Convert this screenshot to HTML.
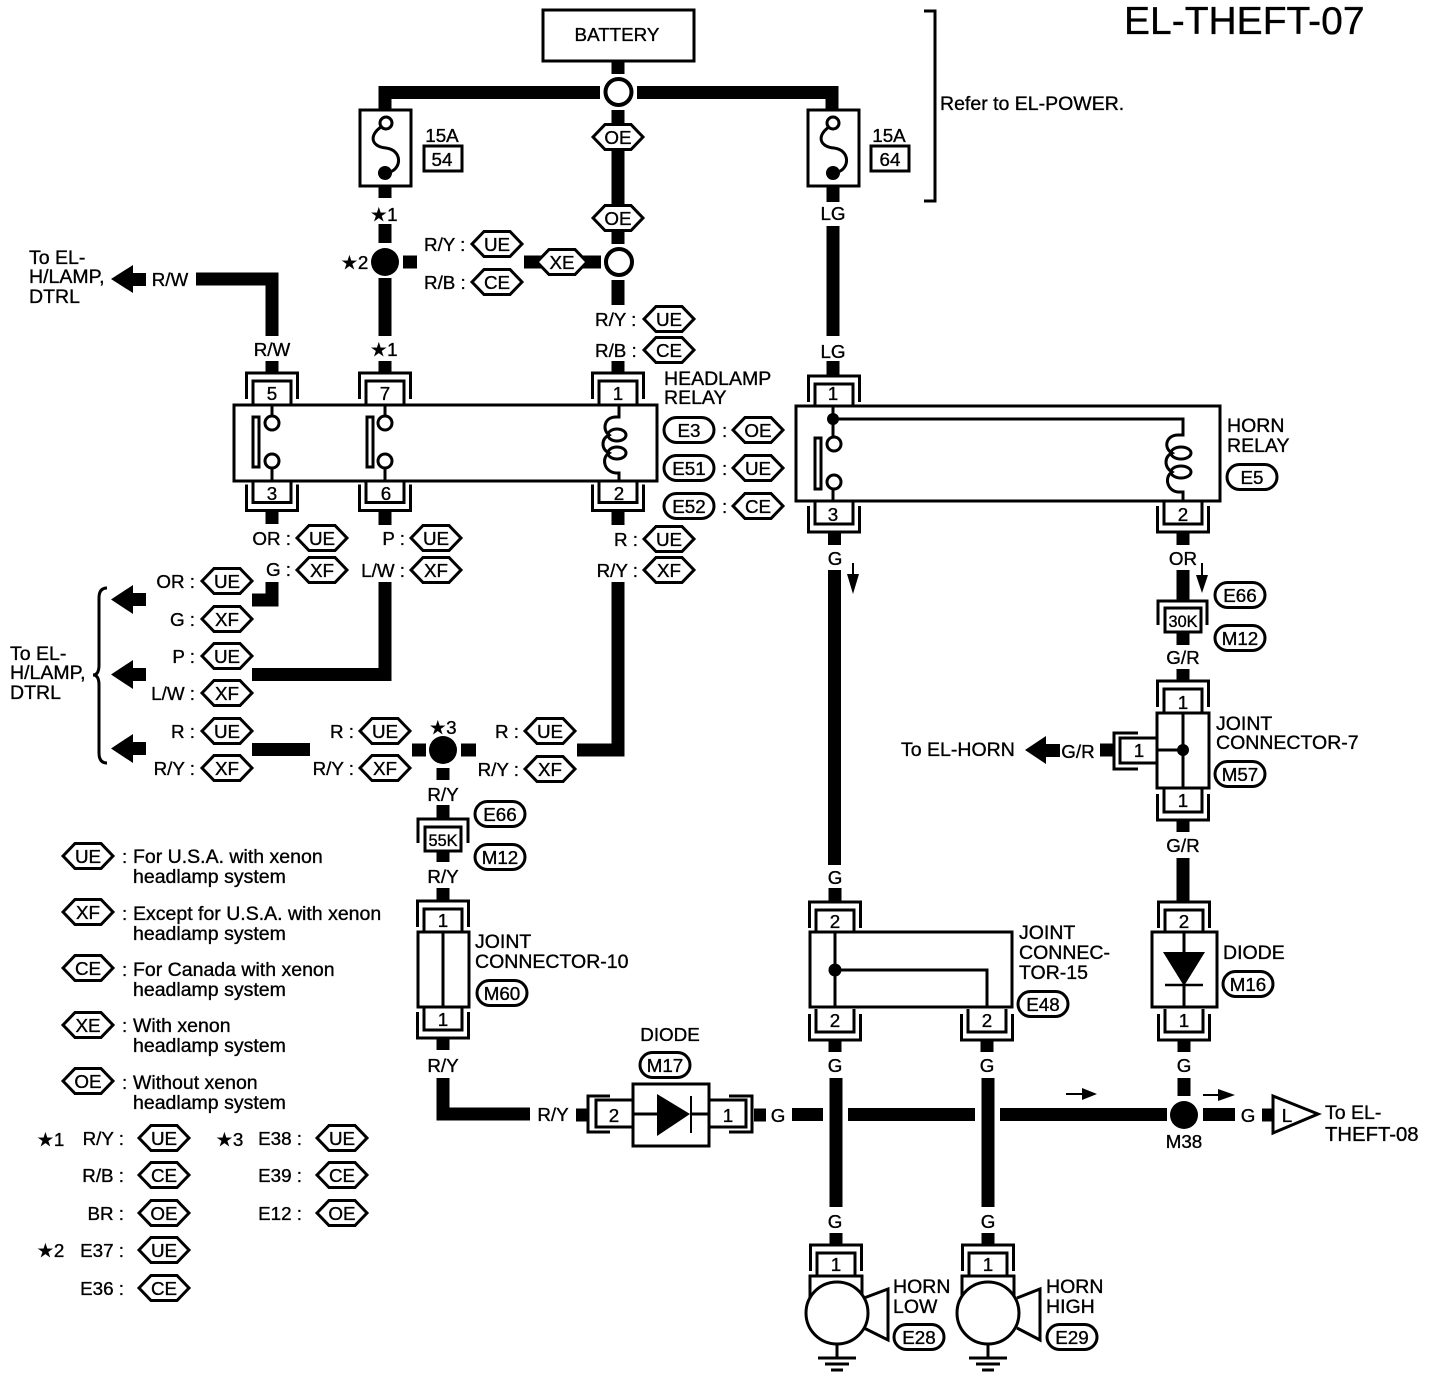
<!DOCTYPE html>
<html><head><meta charset="utf-8"><title>EL-THEFT-07</title>
<style>
html,body{margin:0;padding:0;background:#fff}
svg{display:block}
text{font-family:"Liberation Sans","DejaVu Sans",sans-serif;font-size:18.8px;fill:#000;stroke:#000;stroke-width:.35}
.d{font-size:19.5px}
.m{text-anchor:middle}.e{text-anchor:end}
.w{stroke:#000;stroke-width:13;fill:none}
.l{stroke:#000;stroke-width:3;fill:none}
.b{stroke:#000;stroke-width:3;fill:#fff}
</style></head><body>
<svg width="1440" height="1378" viewBox="0 0 1440 1378" xmlns="http://www.w3.org/2000/svg">
<defs>
<polygon id="h" class="b" points="-25,0 -13,-12.500 13,-12.500 25,0 13,12.500 -13,12.500"/>
<rect id="p" class="b" x="-25" y="-12.500" width="50" height="25" rx="12.500"/>
<g id="ct"><path class="l" d="M-25.500,26V0H25.500V26M-19,31V8H19V31"/></g>
<g id="cb"><path class="l" d="M-25.500,-26V0H25.500V-26M-19,-31V-8H19V-31"/></g>
<g id="gnd"><path class="l" d="M0,31V45M-19,45H19"/><path class="l" d="M-12,51H12M-6,57H6"/></g>
</defs>
<rect width="1440" height="1378" fill="#fff"/>

<!-- title / battery -->
<text x="1124" y="34" style="font-size:39px">EL-THEFT-07</text>
<rect class="b" x="543" y="10" width="151" height="51"/>
<text class="m" x="617" y="41">BATTERY</text>
<path class="l" d="M924,11H935V201H924"/>
<text class="d" x="940" y="110">Refer to EL-POWER.</text>

<!-- thick wires -->
<g class="w">
<path d="M618,61V74"/>
<path d="M385,110V92.500H600"/>
<path d="M637,92.500H832V110"/>
<path d="M618,110V244"/>
<path d="M524,262H601"/>
<path d="M618,280V305"/>
<path d="M385,186V198M385,224V243M403,262H417M385,278V336M385,361V372"/>
<path d="M833,186V202M833,226V336M833,361V376"/>
<path d="M196,279H272V336M272,361V372"/>
<path d="M618,361V372"/>
<path d="M272,511V524M385,511V525M618,511V525"/>
<path d="M252,600H272V582"/>
<path d="M385,582V674.500H252"/>
<path d="M618,582V750H577"/>
<path d="M252,749.500H310M412,750H426M461,750H476"/>
<path d="M443,768V780M443,805V818M443,851V862M443,888V902M443,1038V1050"/>
<path d="M443,1078V1114H530"/>
<path d="M576,1115H587M754,1115H766M792,1114.500H823M848,1114.500H975M1000,1114.500H1167M1203,1114.500H1235M1262,1115H1273"/>
<path d="M834.500,533V545M834.500,570V865M835,888V903"/>
<path d="M835,1040V1052M836,1078V1207M836,1233V1245"/>
<path d="M987,1040V1052M988,1078V1207M988,1233V1245"/>
<path d="M1183,533V545M1183,570V600M1183,632V645M1183,669V681M1100,750H1113M1183,820V832M1183,858V903M1184,1040V1052M1184,1078V1096"/>
</g>

<!-- junctions -->
<circle class="b" style="stroke-width:4" cx="618.500" cy="92" r="13"/>
<circle class="b" style="stroke-width:4" cx="619" cy="262" r="13"/>
<circle cx="385" cy="262" r="14"/>
<circle cx="443" cy="750" r="14"/>
<circle cx="1184" cy="1115" r="14"/>

<!-- fuses -->
<rect class="b" x="360" y="110" width="51" height="76"/>
<circle class="b" cx="386" cy="123" r="6"/><circle cx="385" cy="173" r="7"/>
<path class="l" d="M381,127C368,136 372,147 386,148C402,150 402,168 390,172"/>
<rect class="b" x="808" y="110" width="51" height="76"/>
<circle class="b" cx="833" cy="123" r="6"/><circle cx="833" cy="173" r="7"/>
<path class="l" d="M829,127C816,136 820,147 834,148C850,150 850,168 838,172"/>
<text class="m" x="442" y="142">15A</text>
<rect class="b" x="424" y="146" width="38" height="25"/><text class="m" x="442" y="166">54</text>
<text class="m" x="889" y="142">15A</text>
<rect class="b" x="871" y="146" width="38" height="25"/><text class="m" x="890" y="166">64</text>

<!-- top labels -->
<use href="#h" x="618" y="137"/><text class="m" x="618" y="144">OE</text>
<use href="#h" x="618" y="218"/><text class="m" x="618" y="225">OE</text>
<use href="#h" x="562" y="262"/><text class="m" x="562" y="269">XE</text>
<text class="m" x="384" y="221">★1</text>
<text x="341" y="269">★2</text>
<text x="424" y="251">R/Y :</text><use href="#h" x="497" y="244"/><text class="m" x="497" y="251">UE</text>
<text x="424" y="289">R/B :</text><use href="#h" x="497" y="282"/><text class="m" x="497" y="289">CE</text>
<text x="595" y="326">R/Y :</text><use href="#h" x="669" y="319"/><text class="m" x="669" y="326">UE</text>
<text x="595" y="357">R/B :</text><use href="#h" x="669" y="350"/><text class="m" x="669" y="357">CE</text>
<text class="m" x="833" y="220">LG</text>
<text class="m" x="833" y="358">LG</text>
<text class="m" x="272" y="356">R/W</text>
<text class="m" x="384" y="356">★1</text>

<!-- R/W arrow -->
<text class="d" x="29" y="264">To EL-</text><text class="d" x="29" y="283">H/LAMP,</text><text class="d" x="29" y="303">DTRL</text>
<path d="M111,279L133,265V273H146V286H133V293Z"/>
<text class="m" x="170" y="286">R/W</text>

<!-- headlamp relay -->
<use href="#ct" x="272" y="373"/><use href="#ct" x="385" y="373"/><use href="#ct" x="618" y="373"/>
<use href="#cb" x="272" y="510.500"/><use href="#cb" x="385" y="510.500"/><use href="#cb" x="618" y="510.500"/>
<text class="m" x="272" y="400">5</text><text class="m" x="385" y="400">7</text><text class="m" x="618" y="400">1</text>
<text class="m" x="272" y="500">3</text><text class="m" x="386" y="500">6</text><text class="m" x="619" y="500">2</text>
<rect class="b" x="234" y="405" width="423" height="76"/>
<path class="l" d="M272,405V416M272,468V481M385,405V416M385,468V481"/>
<circle class="b" cx="272" cy="423" r="7"/><circle class="b" cx="272" cy="461" r="7"/>
<circle class="b" cx="385" cy="423" r="7"/><circle class="b" cx="385" cy="461" r="7"/>
<rect class="b" x="253" y="417" width="6" height="50"/>
<rect class="b" x="367" y="417" width="6" height="50"/>
<path class="l" d="M619,405V417H616C604,417 602,430 609,435C601,439 601,449 609,453C601,458 604,472 616,473H619V481"/>
<ellipse class="l" cx="617" cy="435" rx="9" ry="6"/><ellipse class="l" cx="617" cy="453" rx="9" ry="6"/>
<text class="d" x="664" y="385">HEADLAMP</text><text class="d" x="664" y="404">RELAY</text>
<use href="#p" x="689" y="430"/><text class="m" x="689" y="437">E3</text><text x="722" y="437">:</text><use href="#h" x="758" y="430"/><text class="m" x="758" y="437">OE</text>
<use href="#p" x="689" y="468"/><text class="m" x="689" y="475">E51</text><text x="722" y="475">:</text><use href="#h" x="758" y="468"/><text class="m" x="758" y="475">UE</text>
<use href="#p" x="689" y="506"/><text class="m" x="689" y="513">E52</text><text x="722" y="513">:</text><use href="#h" x="758" y="506"/><text class="m" x="758" y="513">CE</text>

<!-- below relay labels -->
<text class="e" x="291" y="545">OR :</text><use href="#h" x="322" y="538"/><text class="m" x="322" y="545">UE</text>
<text class="e" x="291" y="576">G :</text><use href="#h" x="322" y="570"/><text class="m" x="322" y="577">XF</text>
<text class="e" x="405" y="545">P :</text><use href="#h" x="436" y="538"/><text class="m" x="436" y="545">UE</text>
<text class="e" x="405" y="577">L/W :</text><use href="#h" x="436" y="570"/><text class="m" x="436" y="577">XF</text>
<text class="e" x="638" y="546">R :</text><use href="#h" x="669" y="539"/><text class="m" x="669" y="546">UE</text>
<text class="e" x="638" y="577">R/Y :</text><use href="#h" x="669" y="570"/><text class="m" x="669" y="577">XF</text>

<!-- left bundle -->
<text class="d" x="10" y="660">To EL-</text><text class="d" x="10" y="679">H/LAMP,</text><text class="d" x="10" y="699">DTRL</text>
<path class="l" style="stroke-width:3" d="M107,588Q99,588 99,598V665Q99,675 93,675Q99,675 99,685V753Q99,763 107,763"/>
<path d="M111,599.500L133,585V593H146V606H133V614Z"/>
<path d="M111,674.500L133,660V668H146V681H133V689Z"/>
<path d="M111,748.500L133,734V742H146V755H133V763Z"/>
<text class="e" x="195" y="588">OR :</text><use href="#h" x="227" y="581"/><text class="m" x="227" y="588">UE</text>
<text class="e" x="195" y="626">G :</text><use href="#h" x="227" y="619"/><text class="m" x="227" y="626">XF</text>
<text class="e" x="195" y="663">P :</text><use href="#h" x="227" y="656"/><text class="m" x="227" y="663">UE</text>
<text class="e" x="195" y="700">L/W :</text><use href="#h" x="227" y="693"/><text class="m" x="227" y="700">XF</text>
<text class="e" x="195" y="738">R :</text><use href="#h" x="227" y="731"/><text class="m" x="227" y="738">UE</text>
<text class="e" x="195" y="775">R/Y :</text><use href="#h" x="227" y="768"/><text class="m" x="227" y="775">XF</text>
<text class="e" x="354" y="738">R :</text><use href="#h" x="385" y="731"/><text class="m" x="385" y="738">UE</text>
<text class="e" x="354" y="775">R/Y :</text><use href="#h" x="385" y="768"/><text class="m" x="385" y="775">XF</text>
<text class="m" x="443" y="734">★3</text>
<text class="e" x="519" y="738">R :</text><use href="#h" x="550" y="731"/><text class="m" x="550" y="738">UE</text>
<text class="e" x="519" y="776">R/Y :</text><use href="#h" x="550" y="769"/><text class="m" x="550" y="776">XF</text>

<!-- 55K + joint 10 -->
<text class="m" x="443" y="801">R/Y</text>
<use href="#p" x="500" y="814"/><text class="m" x="500" y="821">E66</text>
<path class="l" d="M418,843V819H468V843"/>
<rect class="b" x="425" y="827" width="36" height="24"/><text class="m" x="443" y="846" style="font-size:17px" textLength="29" lengthAdjust="spacingAndGlyphs">55K</text>
<use href="#p" x="500" y="857"/><text class="m" x="500" y="864">M12</text>
<text class="m" x="443" y="883">R/Y</text>
<use href="#ct" x="443" y="901"/><text class="m" x="443" y="927">1</text>
<rect class="b" x="418" y="932" width="51" height="75"/>
<path class="l" d="M443,932V1007"/>
<use href="#cb" x="443" y="1038"/><text class="m" x="443" y="1026">1</text>
<text class="d" x="475" y="948">JOINT</text><text class="d" x="475" y="968">CONNECTOR-10</text>
<use href="#p" x="502" y="993"/><text class="m" x="502" y="1000">M60</text>
<text class="m" x="443" y="1072">R/Y</text>
<text class="m" x="553" y="1121">R/Y</text>

<!-- diode M17 -->
<path class="l" d="M610,1096H588V1132H610M729,1096H752V1132H729"/>
<path class="l" d="M633,1100H596V1127H633M709,1100H746V1127H709"/>
<text class="m" x="614" y="1122">2</text><text class="m" x="728" y="1122">1</text>
<rect class="b" x="633" y="1084" width="76" height="62"/>
<path class="l" d="M633,1114H657M690,1114H709"/>
<path d="M657,1094L690,1114L657,1136Z"/><path class="l" style="stroke-width:2" d="M691,1096V1133"/>
<text class="m" x="670" y="1041">DIODE</text>
<use href="#p" x="665" y="1065"/><text class="m" x="665" y="1072">M17</text>
<text class="m" x="778" y="1122">G</text>
<text class="m" x="1248" y="1122">G</text>

<!-- legend -->
<use href="#h" x="88" y="856"/><text class="m" x="88" y="863">UE</text><text x="122" y="863">:</text>
<text class="d" x="133" y="863">For U.S.A. with xenon</text><text class="d" x="133" y="883">headlamp system</text>
<use href="#h" x="88" y="912"/><text class="m" x="88" y="919">XF</text><text x="122" y="920">:</text>
<text class="d" x="133" y="920">Except for U.S.A. with xenon</text><text class="d" x="133" y="940">headlamp system</text>
<use href="#h" x="88" y="968"/><text class="m" x="88" y="975">CE</text><text x="122" y="976">:</text>
<text class="d" x="133" y="976">For Canada with xenon</text><text class="d" x="133" y="996">headlamp system</text>
<use href="#h" x="88" y="1025"/><text class="m" x="88" y="1032">XE</text><text x="122" y="1032">:</text>
<text class="d" x="133" y="1032">With xenon</text><text class="d" x="133" y="1052">headlamp system</text>
<use href="#h" x="88" y="1081"/><text class="m" x="88" y="1088">OE</text><text x="122" y="1089">:</text>
<text class="d" x="133" y="1089">Without xenon</text><text class="d" x="133" y="1109">headlamp system</text>

<text x="37" y="1146">★1</text>
<text class="e" x="124" y="1145">R/Y :</text><use href="#h" x="164" y="1138"/><text class="m" x="164" y="1145">UE</text>
<text class="e" x="124" y="1182">R/B :</text><use href="#h" x="164" y="1175"/><text class="m" x="164" y="1182">CE</text>
<text class="e" x="124" y="1220">BR :</text><use href="#h" x="164" y="1213"/><text class="m" x="164" y="1220">OE</text>
<text x="37" y="1257">★2</text>
<text class="e" x="124" y="1257">E37 :</text><use href="#h" x="164" y="1250"/><text class="m" x="164" y="1257">UE</text>
<text class="e" x="124" y="1295">E36 :</text><use href="#h" x="164" y="1288"/><text class="m" x="164" y="1295">CE</text>
<text x="216" y="1146">★3</text>
<text class="e" x="302" y="1145">E38 :</text><use href="#h" x="342" y="1138"/><text class="m" x="342" y="1145">UE</text>
<text class="e" x="302" y="1182">E39 :</text><use href="#h" x="342" y="1175"/><text class="m" x="342" y="1182">CE</text>
<text class="e" x="302" y="1220">E12 :</text><use href="#h" x="342" y="1213"/><text class="m" x="342" y="1220">OE</text>

<!-- horn relay -->
<use href="#ct" x="834" y="376"/><text class="m" x="833" y="400">1</text>
<use href="#cb" x="834" y="532"/><use href="#cb" x="1183" y="532"/>
<text class="m" x="833" y="521">3</text><text class="m" x="1183" y="521">2</text>
<rect class="b" x="796" y="406" width="424" height="95"/>
<path class="l" d="M833,406V438M833,488V501M833,419H1183V435H1178C1166,435 1163,448 1172,453C1164,457 1164,467 1172,472C1164,477 1167,491 1178,492H1183V501"/>
<circle cx="833" cy="419" r="6"/>
<circle class="b" cx="834" cy="444" r="7"/><circle class="b" cx="834" cy="482" r="7"/>
<rect class="b" x="815" y="438" width="6" height="51"/>
<ellipse class="l" cx="1181" cy="453" rx="10" ry="6"/><ellipse class="l" cx="1181" cy="472" rx="10" ry="6"/>
<text class="d" x="1227" y="432">HORN</text><text class="d" x="1227" y="452">RELAY</text>
<use href="#p" x="1252" y="477"/><text class="m" x="1252" y="484">E5</text>

<text class="m" x="835" y="565">G</text>
<path class="l" style="stroke-width:2" d="M853,563V576"/><path d="M847,574H859L853,594Z"/>
<text class="m" x="1183" y="565">OR</text>
<path class="l" style="stroke-width:2" d="M1202,563V577"/><path d="M1196,575H1208L1202,593Z"/>

<!-- 30K + joint 7 -->
<use href="#p" x="1240" y="595"/><text class="m" x="1240" y="602">E66</text>
<path class="l" d="M1158,625V601H1207V625"/>
<rect class="b" x="1165" y="608" width="36" height="24"/><text class="m" x="1183" y="627" style="font-size:17px" textLength="29" lengthAdjust="spacingAndGlyphs">30K</text>
<use href="#p" x="1240" y="638"/><text class="m" x="1240" y="645">M12</text>
<text class="m" x="1183" y="664">G/R</text>
<use href="#ct" x="1183" y="681"/><text class="m" x="1183" y="709">1</text>
<path class="l" d="M1138,733H1114V769H1138"/>
<path class="l" d="M1157,738H1120V763H1157"/>
<text class="m" x="1139" y="757">1</text>
<rect class="b" x="1157" y="713" width="52" height="75"/>
<path class="l" d="M1183,713V788M1157,750H1183"/><circle cx="1183" cy="750" r="6"/>
<use href="#cb" x="1183" y="820"/><text class="m" x="1183" y="807">1</text>
<text class="d" x="1216" y="730">JOINT</text><text class="d" x="1216" y="749">CONNECTOR-7</text>
<use href="#p" x="1240" y="774"/><text class="m" x="1240" y="781">M57</text>
<text class="m" x="1078" y="758">G/R</text>
<path d="M1025,750L1046,736V744H1060V757H1046V764Z"/>
<text class="d" x="901" y="756">To EL-HORN</text>
<text class="m" x="1183" y="852">G/R</text>

<!-- joint 15 -->
<text class="m" x="835" y="884">G</text>
<use href="#ct" x="835" y="902"/><text class="m" x="835" y="928">2</text>
<rect class="b" x="810" y="932" width="202" height="75"/>
<path class="l" d="M835,932V1007"/>
<path class="l" d="M835,970H987V1007"/><circle cx="835" cy="970" r="6.500"/>
<use href="#cb" x="835" y="1040"/><use href="#cb" x="987" y="1040"/>
<text class="m" x="835" y="1027">2</text><text class="m" x="987" y="1027">2</text>
<text class="d" x="1019" y="939">JOINT</text><text class="d" x="1019" y="959">CONNEC-</text><text class="d" x="1019" y="979">TOR-15</text>
<use href="#p" x="1043" y="1004"/><text class="m" x="1043" y="1011">E48</text>
<text class="m" x="835" y="1072">G</text><text class="m" x="987" y="1072">G</text>

<!-- diode M16 -->
<use href="#ct" x="1184" y="902"/><text class="m" x="1184" y="928">2</text>
<rect class="b" x="1152" y="932" width="65" height="75"/>
<path class="l" d="M1184,932V953M1184,985V1007"/>
<path class="l" style="stroke-width:2.500" d="M1165,985H1203"/>
<path d="M1163,952H1205L1184,986Z"/>
<use href="#cb" x="1184" y="1040"/><text class="m" x="1184" y="1027">1</text>
<text class="d" x="1223" y="959">DIODE</text>
<use href="#p" x="1248" y="984"/><text class="m" x="1248" y="991">M16</text>
<text class="m" x="1184" y="1072">G</text>

<!-- bus end -->
<path class="l" style="stroke-width:2" d="M1066,1094H1085M1203,1095H1220"/>
<path d="M1082,1088L1097,1094L1082,1100Z"/><path d="M1218,1089L1235,1095L1218,1101Z"/>
<text class="m" x="1184" y="1148">M38</text>
<polygon class="b" points="1273,1096 1318,1114 1273,1133"/><text class="m" x="1287" y="1122">L</text>
<text class="d" x="1325" y="1119">To EL-</text><text class="d" x="1325" y="1141" style="font-size:20.300px">THEFT-08</text>

<!-- horns -->
<text class="m" x="835" y="1228">G</text><text class="m" x="988" y="1228">G</text>
<use href="#ct" x="836" y="1245"/><use href="#ct" x="988" y="1245"/>
<text class="m" x="836" y="1271">1</text><text class="m" x="988" y="1271">1</text>
<rect class="b" x="810" y="1276" width="52" height="24"/><rect class="b" x="962" y="1276" width="52" height="24"/>
<circle class="b" cx="837" cy="1313" r="31"/><circle class="b" cx="988" cy="1313" r="31"/>
<path class="l" d="M864,1298L888,1289V1340L864,1328M1017,1298L1040,1289V1340L1017,1328"/>
<use href="#gnd" x="837" y="1313"/><use href="#gnd" x="988" y="1313"/>
<text class="d" x="893" y="1293">HORN</text><text class="d" x="893" y="1313">LOW</text>
<use href="#p" x="919" y="1337"/><text class="m" x="919" y="1344">E28</text>
<text class="d" x="1046" y="1293">HORN</text><text class="d" x="1046" y="1313">HIGH</text>
<use href="#p" x="1072" y="1337"/><text class="m" x="1072" y="1344">E29</text>
</svg>
</body></html>
